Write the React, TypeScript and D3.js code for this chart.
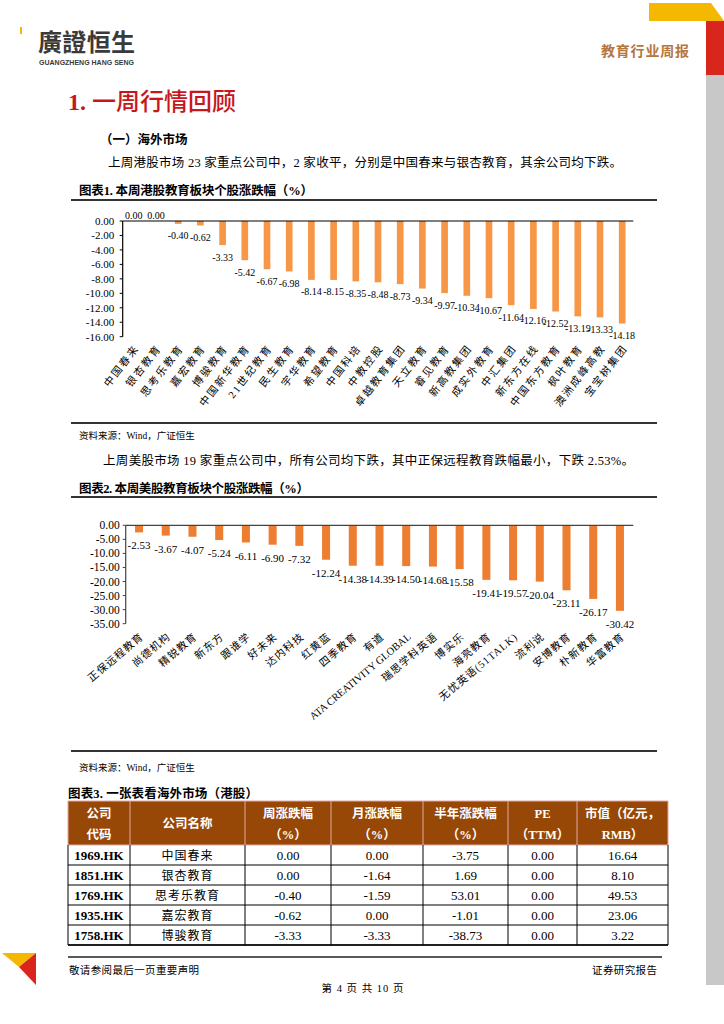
import React from "react";
import * as d3 from "d3";

// 港股
const hkNames = [
  "中国春来", "银杏教育", "思考乐教育", "嘉宏教育", "博骏教育", "中国新华教育",
  "21世纪教育", "民生教育", "宇华教育", "希望教育", "中国科培", "中教控股",
  "卓越教育集团", "天立教育", "睿见教育", "新高教集团", "成实外教育", "中汇集团",
  "新东方在线", "中国东方教育", "枫叶教育", "澳洲成峰高教", "宝宝树集团",
];
const hkChange = [
  0.0, 0.0, -0.4, -0.62, -3.33, -5.42, -6.67, -6.98, -8.14, -8.15, -8.35, -8.48,
  -8.73, -9.34, -9.97, -10.34, -10.67, -11.64, -12.16, -12.52, -13.19, -13.33, -14.18,
];
const hkTicks = [0, -2, -4, -6, -8, -10, -12, -14, -16];

// 美股
const usNames = [
  "正保远程教育", "尚德机构", "精锐教育", "新东方", "跟谁学", "好未来", "达内科技",
  "红黄蓝", "四季教育", "有道", "ATA CREATIVITY GLOBAL", "瑞思学科英语", "博实乐",
  "海亮教育", "无忧英语(51TALK)", "流利说", "安博教育", "朴新教育", "华富教育",
];
const usChange = [
  -2.53, -3.67, -4.07, -5.24, -6.11, -6.9, -7.32, -12.24, -14.38, -14.39, -14.5,
  -14.68, -15.58, -19.41, -19.57, -20.04, -23.11, -26.17, -30.42,
];
const usTicks = [0, -5, -10, -15, -20, -25, -30, -35];

// 表3
const tableHead1 = ["公司", "公司名称", "周涨跌幅", "月涨跌幅", "半年涨跌幅", "PE", "市值（亿元，"];
const tableHead2 = ["代码", "", "（%）", "（%）", "（%）", "（TTM）", "RMB）"];
const tableCodes = ["1969.HK", "1851.HK", "1769.HK", "1935.HK", "1758.HK"];
const tableNames = ["中国春来", "银杏教育", "思考乐教育", "嘉宏教育", "博骏教育"];
const weekChange = ["0.00", "0.00", "-0.40", "-0.62", "-3.33"];
const monthChange = ["0.00", "-1.64", "-1.59", "0.00", "-3.33"];
const halfYearChange = ["-3.75", "1.69", "53.01", "-1.01", "-38.73"];
const peTTM = ["0.00", "0.00", "0.00", "0.00", "0.00"];
const marketCap = ["16.64", "8.10", "49.53", "23.06", "3.22"];

const SERIF = "'Liberation Serif', 'Noto Sans CJK SC', serif";
const CJK = "'Noto Sans CJK SC', sans-serif";

interface BarChartProps {
  names: string[];
  values: number[];
  ticks: number[];
  left: number;
  right: number;
  top: number;
  bottom: number;
  color: string;
  axisColor: string;
  tickFont: number;
  valueFont: number;
  catFont: number;
  catY: number;
  catAngle: number;
  catSpacing: number;
  tickGap: number;
}

function BarChart(p: BarChartProps) {
  const x = d3.scaleBand<string>().domain(p.names).range([p.left, p.right]);
  const y = d3
    .scaleLinear()
    .domain([d3.min(p.ticks)!, 0])
    .range([p.bottom, p.top]);
  const bw = x.bandwidth() * 0.3;
  const y0 = y(0);

  return (
    <g>
      {/* 柱子 */}
      {p.names.map((n, i) => {
        const v = p.values[i];
        const cx = x(n)! + x.bandwidth() / 2;
        return (
          <rect
            key={n}
            x={cx - bw / 2}
            y={y0}
            width={bw}
            height={Math.max(0, y(v) - y0)}
            fill={p.color}
          />
        );
      })}

      {/* 轴 */}
      <line x1={p.left} x2={p.right} y1={y0} y2={y0} stroke={p.axisColor} strokeWidth={1.2} />
      <line x1={p.left} x2={p.left} y1={y0} y2={p.bottom} stroke={p.axisColor} strokeWidth={1.2} />
      {p.ticks.map((t) => (
        <g key={t}>
          <line x1={p.left - 3} x2={p.left} y1={y(t)} y2={y(t)} stroke={p.axisColor} />
          <text
            x={p.left - p.tickGap}
            y={y(t)}
            dy="0.35em"
            textAnchor="end"
            fontFamily={SERIF}
            fontSize={p.tickFont}
          >
            {t.toFixed(2)}
          </text>
        </g>
      ))}

      {/* 数值标签 */}
      {p.names.map((n, i) => {
        const v = p.values[i];
        const cx = x(n)! + x.bandwidth() / 2;
        const ly = v === 0 ? y0 - 2 : y(v) + p.valueFont * 1.55;
        return (
          <text
            key={n}
            x={cx}
            y={ly}
            textAnchor="middle"
            fontFamily={SERIF}
            fontSize={p.valueFont}
          >
            {v.toFixed(2)}
          </text>
        );
      })}

      {/* 类别标签 */}
      {p.names.map((n) => {
        const cx = x(n)! + x.bandwidth() / 2;
        const latin = /^[A-Z ]+$/.test(n);
        return (
          <text
            key={n}
            transform={`translate(${cx + 3},${p.catY}) rotate(${-p.catAngle})`}
            dy="0.35em"
            textAnchor="end"
            fontFamily={SERIF}
            fontSize={p.catFont}
            letterSpacing={latin ? 0 : p.catSpacing}
          >
            {n}
          </text>
        );
      })}
    </g>
  );
}

function Table() {
  const cols = [68, 130, 245, 331, 423, 508, 577, 668];
  const top = 801;
  const headH = 44;
  const rowH = 20;
  const rows = tableCodes.map((c, i) => [
    c,
    tableNames[i],
    weekChange[i],
    monthChange[i],
    halfYearChange[i],
    peTTM[i],
    marketCap[i],
  ]);
  const bodyTop = top + headH;
  const bodyBottom = bodyTop + rows.length * rowH;
  return (
    <g>
      <rect x={cols[0]} y={top} width={cols[7] - cols[0]} height={headH} fill="#984806" stroke="#e3a7a5" />
      {cols.slice(1, 7).map((cx) => (
        <line key={cx} x1={cx} x2={cx} y1={top} y2={bodyTop} stroke="#e3a7a5" />
      ))}
      {tableHead1.map((h, j) => {
        const cx = (cols[j] + cols[j + 1]) / 2;
        const two = tableHead2[j] !== "";
        return (
          <g key={j} fill="#fff" fontWeight="bold" fontSize={12.5} textAnchor="middle">
            <text x={cx} y={two ? top + 17 : top + 27} fontFamily={SERIF}>
              {h}
            </text>
            {two && (
              <text x={cx} y={top + 38} fontFamily={SERIF}>
                {tableHead2[j]}
              </text>
            )}
          </g>
        );
      })}
      {rows.map((r, i) => {
        const ry = bodyTop + i * rowH;
        return (
          <g key={i}>
            <line x1={cols[0]} x2={cols[7]} y1={ry + rowH} y2={ry + rowH} stroke="#000" />
            {r.map((cell, j) => (
              <text
                key={j}
                x={(cols[j] + cols[j + 1]) / 2}
                y={ry + 14.5}
                textAnchor="middle"
                fontFamily={SERIF}
                fontSize={j === 1 ? 12 : 13}
                fontWeight={j === 0 ? "bold" : "normal"}
                letterSpacing={j === 1 ? 1 : 0}
              >
                {cell}
              </text>
            ))}
          </g>
        );
      })}
      {cols.map((cx) => (
        <line key={cx} x1={cx} x2={cx} y1={bodyTop} y2={bodyBottom} stroke="#000" />
      ))}
      <line x1={cols[0]} x2={cols[7]} y1={bodyBottom} y2={bodyBottom} stroke="#000" strokeWidth={1.5} />
    </g>
  );
}

export default function App() {
  return (
    <div style={{ position: "absolute", left: 0, top: 0 }}>
      <svg width={724} height={1024} style={{ display: "block", background: "#fff" }}>
        {/* 页眉 */}
        <rect x={20} y={27} width={2} height={7} fill="#f5b800" />
        <text x={38} y={51} fontFamily="'Noto Sans CJK TC', sans-serif" fontWeight="bold" fontSize={24} textLength={97} fill="#3a3a3a">
          廣證恒生
        </text>
        <text x={39} y={65} fontFamily="'Liberation Sans', sans-serif" fontWeight="bold" fontSize={7.5} textLength={95} lengthAdjust="spacingAndGlyphs" fill="#3a3a3a">
          GUANGZHENG HANG SENG
        </text>
        <text x={601} y={56} fontFamily={CJK} fontWeight="bold" fontSize={14} fill="#b5773e" textLength={88}>
          教育行业周报
        </text>
        <polygon points="649,3 711,3 724,21 649,21" fill="#f5b800" />
        <rect x={706} y={21} width={18} height={54} fill="#d9261c" />
        <rect x={706} y={75} width={18} height={910} fill="#c8c8c8" />

        {/* 标题 */}
        <text x={68} y={110} fill="#c8161d" fontSize={24} fontWeight="bold">
          <tspan fontFamily={SERIF}>1. </tspan>
          <tspan fontFamily={CJK} fontWeight={500}>一周行情回顾</tspan>
        </text>
        <text x={100} y={144} fontFamily={CJK} fontWeight="bold" fontSize={12.5}>
          （一）海外市场
        </text>
        <text x={108} y={167} fontFamily={SERIF} fontSize={12.5} textLength={514}>
          上周港股市场 23 家重点公司中，2 家收平，分别是中国春来与银杏教育，其余公司均下跌。
        </text>

        {/* 图表1 */}
        <text x={79} y={195} fontFamily={SERIF} fontWeight="bold" fontSize={12.5} textLength={234}>
          图表1. 本周港股教育板块个股涨跌幅（%）
        </text>
        <line x1={71} x2={657} y1={200} y2={200} stroke="#333" strokeWidth={2} />
        <BarChart
          names={hkNames}
          values={hkChange}
          ticks={hkTicks}
          left={122.7}
          right={633.3}
          top={221}
          bottom={336.7}
          color="#f79646"
          axisColor="#000"
          tickFont={11}
          valueFont={10}
          catFont={10.5}
          catY={346}
          catAngle={52}
          catSpacing={2}
          tickGap={8.5}
        />
        <line x1={71} x2={657} y1={423} y2={423} stroke="#333" strokeWidth={2} />
        <text x={79} y={439} fontFamily={SERIF} fontSize={9.5}>
          资料来源：Wind，广证恒生
        </text>

        <text x={103} y={465} fontFamily={SERIF} fontSize={12.5} textLength={531}>
          上周美股市场 19 家重点公司中，所有公司均下跌，其中正保远程教育跌幅最小，下跌 2.53%。
        </text>

        {/* 图表2 */}
        <text x={79} y={493} fontFamily={SERIF} fontWeight="bold" fontSize={12.5} textLength={230}>
          图表2. 本周美股教育板块个股涨跌幅（%）
        </text>
        <line x1={71} x2={657} y1={497} y2={497} stroke="#333" strokeWidth={2} />
        <BarChart
          names={usNames}
          values={usChange}
          ticks={usTicks}
          left={125.7}
          right={633.3}
          top={525.3}
          bottom={623.7}
          color="#ed7d31"
          axisColor="#444"
          tickFont={11.5}
          valueFont={11}
          catFont={10.5}
          catY={635}
          catAngle={40}
          catSpacing={1}
          tickGap={6}
        />
        <line x1={71} x2={657} y1={751} y2={751} stroke="#333" strokeWidth={2} />
        <text x={79} y={771} fontFamily={SERIF} fontSize={9.5}>
          资料来源：Wind，广证恒生
        </text>

        {/* 表3 */}
        <text x={68} y={798} fontFamily={SERIF} fontWeight="bold" fontSize={12.5} textLength={190}>
          图表3. 一张表看海外市场（港股）
        </text>
        <Table />

        {/* 页脚 */}
        <polygon points="2,953 36,953 19,967" fill="#f5b800" />
        <polygon points="36,953 36,985 19,967" fill="#d9261c" />
        <line x1={68} x2={662} y1={957} y2={957} stroke="#222" strokeWidth={1.5} />
        <text x={69} y={974} fontFamily={CJK} fontSize={10.5} textLength={130}>
          敬请参阅最后一页重要声明
        </text>
        <text x={657} y={974} fontFamily={CJK} fontSize={10.5} textAnchor="end" textLength={65}>
          证券研究报告
        </text>
        <text x={363} y={992} fontFamily={SERIF} fontSize={10.5} textAnchor="middle" letterSpacing={1}>
          第 4 页 共 10 页
        </text>
      </svg>
    </div>
  );
}
